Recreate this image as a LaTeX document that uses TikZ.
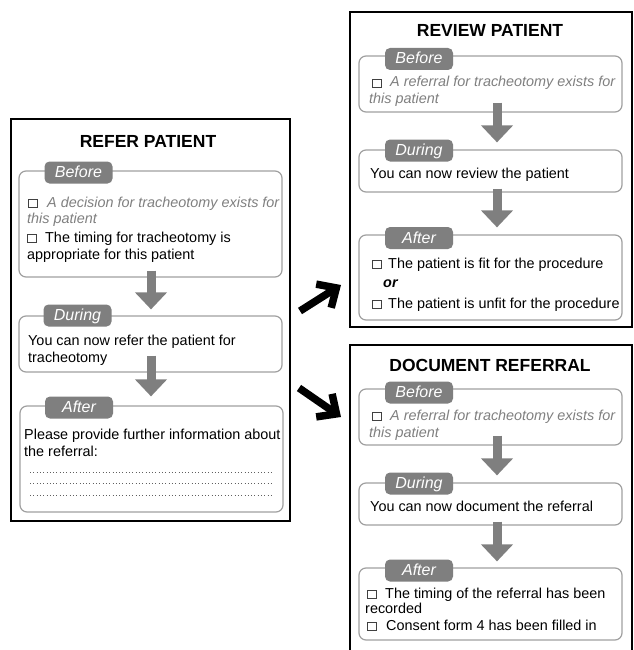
\documentclass[tikz,border=0pt]{standalone}
\usepackage{fontspec}
\setmainfont{Liberation Sans}
\usetikzlibrary{arrows.meta}
\definecolor{boxline}{HTML}{A0A0A0}
\definecolor{tabfill}{HTML}{7F7F7F}
\definecolor{greytext}{HTML}{808080}
\definecolor{cbcol}{HTML}{404040}
\definecolor{dotcol}{HTML}{606060}
\newcommand\cbox{\textcolor{cbcol}{\setlength{\fboxsep}{0pt}\setlength{\fboxrule}{0.9pt}\fbox{\rule{0pt}{7.5pt}\hspace{7.5pt}}}}
\tikzset{
 panel/.style={draw=black, line width=2pt},
 box/.style={draw=boxline, line width=1.2pt, rounded corners=7pt, fill=white, inner sep=0pt},
 tab/.style={fill=tabfill, rounded corners=5pt, minimum width=68pt, minimum height=22pt, inner sep=0pt, text=white, font=\fontsize{16}{18}\selectfont\itshape, text height=12pt, text depth=2pt},
 ttl/.style={anchor=base, inner sep=0pt, font=\fontsize{17.5}{20}\selectfont\bfseries},
 txt/.style={anchor=base west, inner sep=0pt, font=\fontsize{14.4}{17}\selectfont},
 gtxt/.style={txt, text=greytext, font=\fontsize{14.4}{17}\selectfont\itshape},
 garrow/.style={draw=tabfill, line width=9pt, -{Triangle[width=31pt,length=17pt]}},
 barrow/.style={draw=black, line width=7.5pt, -{Straight Barb[length=15pt,width=28pt]}},
 dotline/.style={draw=dotcol, line width=1pt, dash pattern=on 1pt off 2.3pt},
}
\begin{document}
\begin{tikzpicture}[x=1pt, y=-1pt]
\useasboundingbox (0,0) rectangle (633,650);
% ---------- left panel ----------
\draw[panel] (11,119) rectangle (290,521);
\node[ttl] (lt) at (148,147) {REFER PATIENT};
\node[box, minimum width=263pt, minimum height=106pt] (lb) at (150.5,224) {};
\node[tab] (lbt) at (78.5,172.5) {Before};
\node[gtxt] (lb1) at (28,207) {\cbox\hspace{9.7pt}A decision for tracheotomy exists for};
\node[gtxt] (lb2) at (27,223) {this patient};
\node[txt] (lb3) at (27,242) {\cbox\hspace{8.7pt}The timing for tracheotomy is};
\node[txt] (lb4) at (27,259) {appropriate for this patient};
\node[box, minimum width=263pt, minimum height=56pt] (ld) at (150.5,344) {};
\node[tab] (ldt) at (77.5,315.5) {During};
\node[txt] (ld1) at (28,345) {You can now refer the patient for};
\node[txt] (ld2) at (28,362) {tracheotomy};
\node[box, minimum width=263pt, minimum height=106pt] (la) at (151.5,459) {};
\node[tab] (lat) at (79,407.5) {After};
\node[txt] (la1) at (24,439) {Please provide further information about};
\node[txt] (la2) at (24,456) {the referral:};
\coordinate (d1a) at (30,472); \coordinate (d1b) at (272,472);
\coordinate (d2a) at (30,483); \coordinate (d2b) at (272,483);
\coordinate (d3a) at (30,495); \coordinate (d3b) at (272,495);
\draw[dotline] (d1a) -- (d1b);
\draw[dotline] (d2a) -- (d2b);
\draw[dotline] (d3a) -- (d3b);
\draw[garrow] ([xshift=0.5pt,yshift=7pt]lb.south) -- ([xshift=0.5pt,yshift=6pt]ld.north);
\draw[garrow] ([xshift=0.5pt,yshift=17pt]ld.south) -- ([xshift=-0.5pt,yshift=9pt]la.north);
% ---------- right top panel ----------
\draw[panel] (350,12) rectangle (632,327);
\node[ttl] (rt) at (490,37) {REVIEW PATIENT};
\node[box, minimum width=263pt, minimum height=56pt] (rb) at (490.5,84) {};
\node[tab] (rbt) at (419,59) {Before};
\node[gtxt] (rb1) at (372,87) {\cbox\hspace{8.7pt}A referral for tracheotomy exists for};
\node[gtxt] (rb2) at (369,103) {this patient};
\node[box, minimum width=263pt, minimum height=42pt] (rd) at (490.5,171) {};
\node[tab] (rdt) at (419,150.5) {During};
\node[txt] (rd1) at (370,178) {You can now review the patient};
\node[box, minimum width=263pt, minimum height=85pt] (ra) at (490.5,277.5) {};
\node[tab] (rat) at (419,238) {After};
\node[txt] (ra1) at (372,268) {\cbox\hspace{6.7pt}The patient is fit for the procedure};
\node[txt, font=\fontsize{14.4}{17}\selectfont\bfseries\itshape] (ra2) at (383,287) {or};
\node[txt] (ra3) at (372,308) {\cbox\hspace{6.7pt}The patient is unfit for the procedure};
\draw[garrow] ([xshift=6.5pt,yshift=10pt]rb.south) -- ([xshift=6.5pt,yshift=7pt]rd.north);
\draw[garrow] ([xshift=6.5pt,yshift=4pt]rd.south) -- ([xshift=6.5pt,yshift=7pt]ra.north);
% ---------- right bottom panel ----------
\draw[panel] (350,345) rectangle (632,654);
\node[ttl] (bt) at (490,371) {DOCUMENT REFERRAL};
\node[box, minimum width=263pt, minimum height=56pt] (bb) at (490.5,417) {};
\node[tab] (bbt) at (419,392.5) {Before};
\node[gtxt] (bb1) at (372,420) {\cbox\hspace{8.7pt}A referral for tracheotomy exists for};
\node[gtxt] (bb2) at (369,437) {this patient};
\node[box, minimum width=263pt, minimum height=42pt] (bd) at (490.5,504) {};
\node[tab] (bdt) at (419,483.5) {During};
\node[txt] (bd1) at (370,511) {You can now document the referral};
\node[box, minimum width=263pt, minimum height=72pt] (ba) at (490.5,604) {};
\node[tab] (bat) at (419,570.5) {After};
\node[txt] (ba1) at (367,598) {\cbox\hspace{8.7pt}The timing of the referral has been};
\node[txt] (ba2) at (365,613) {recorded};
\node[txt] (ba3) at (367,630) {\cbox\hspace{9.7pt}Consent form 4 has been filled in};
\draw[garrow] ([xshift=6.5pt,yshift=10pt]bb.south) -- ([xshift=6.5pt,yshift=7pt]bd.north);
\draw[garrow] ([xshift=6.5pt,yshift=4pt]bd.south) -- ([xshift=6.5pt,yshift=6pt]ba.north);
% ---------- black arrows between panels ----------
\coordinate (u0) at (300,311); \coordinate (u1) at (341,285);
\coordinate (w0) at (299,388); \coordinate (w1) at (341,417);
\draw[barrow] (u0) -- (u1);
\draw[barrow] (w0) -- (w1);
\end{tikzpicture}
\end{document}
